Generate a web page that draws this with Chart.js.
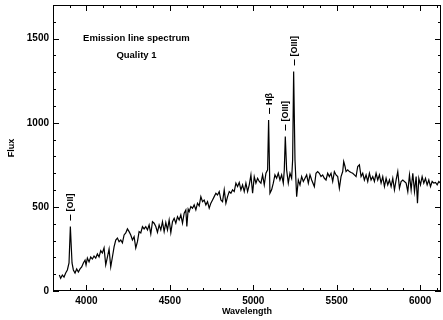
<!DOCTYPE html>
<html>
<head>
<meta charset="utf-8">
<script src="https://cdn.jsdelivr.net/npm/chart.js@4.4.1/dist/chart.umd.min.js"></script>
<style>
  html, body { margin: 0; padding: 0; background: #fff; }
  #wrap { width: 443px; height: 320px; }
</style>
</head>
<body>
<div id="wrap"><canvas id="spec"></canvas></div>
<script>
// spectrum samples
const wavelength = [
  3838, 3846, 3856, 3866, 3876, 3886, 3896, 3904, 3914, 3922, 3932, 3942, 3952, 3962, 3972, 3982, 3992, 3998,
  4006, 4016, 4026, 4036, 4046, 4056, 4066, 4076, 4086, 4096, 4106, 4116, 4126, 4136, 4146, 4156, 4166, 4176,
  4186, 4196, 4206, 4216, 4226, 4236, 4246, 4256, 4266, 4276, 4286, 4296, 4306, 4316, 4326, 4336, 4346, 4356,
  4366, 4376, 4386, 4396, 4406, 4416, 4426, 4436, 4446, 4456, 4466, 4476, 4486, 4496, 4506, 4516, 4526, 4536,
  4546, 4556, 4566, 4576, 4586, 4596, 4602,
  4610, 4616, 4626, 4636, 4646, 4656, 4666, 4676, 4686, 4696, 4706, 4716, 4726, 4736, 4746, 4756, 4766, 4776,
  4786, 4796, 4806, 4816, 4826, 4836, 4846, 4856, 4866, 4876, 4886, 4896, 4906, 4916, 4926, 4936, 4946, 4956, 4966,
  4976, 4986, 4996, 5006, 5016, 5026, 5036, 5046, 5056, 5066, 5076, 5086, 5092, 5100, 5110, 5120, 5130, 5140,
  5150, 5160, 5170, 5180, 5186, 5192, 5200, 5210, 5220, 5230, 5236, 5242, 5250, 5260, 5270, 5280, 5290, 5300,
  5310, 5320, 5330, 5340, 5350,
  5366, 5376, 5386, 5396, 5406, 5416, 5426, 5436, 5446, 5456, 5466, 5476, 5486, 5496, 5506, 5516, 5526, 5536,
  5542, 5550, 5556, 5566, 5576, 5586, 5596, 5606, 5616, 5626, 5636, 5646, 5656, 5666, 5676, 5686, 5696, 5706,
  5716, 5726, 5736, 5746, 5756, 5766, 5776, 5786, 5796, 5806, 5816, 5826, 5836, 5846, 5856, 5866, 5876, 5886,
  5896, 5916, 5926, 5936, 5946, 5956, 5966, 5976, 5984, 5992, 6002, 6012, 6022, 6032, 6042, 6052, 6062, 6072,
  6082, 6092, 6102, 6112, 6122
];
const flux = [
  95, 75, 95, 83, 107, 125, 167, 383, 167, 125, 107, 131, 113, 131, 143, 167, 184, 155,
  196, 173, 202, 190, 208, 196, 220, 202, 240, 226, 256, 155, 202, 250, 143, 202, 262, 303,
  315, 293, 303, 286, 333, 345, 369, 353, 333, 303, 323, 256, 293, 353, 345, 383, 369, 383,
  363, 393, 339, 412, 403, 383, 349, 393, 363, 412, 353, 407, 363, 422, 347, 412, 432, 403,
  442, 422, 452, 403, 462, 482, 383,
  486, 472, 502, 492, 512, 482, 522, 506, 561, 531, 541, 512, 531, 492, 522, 541, 561, 581,
  571, 591, 541, 531, 601, 522, 561, 591, 581, 601, 591, 641, 621, 645, 601, 631, 591, 641, 591,
  631, 690, 581, 680, 641, 670, 651, 641, 690, 631, 700, 720, 1017, 581, 601, 641, 690, 670,
  700, 660, 690, 641, 720, 918, 720, 641, 700, 670, 780, 1305, 780, 561, 660, 631, 680, 651,
  670, 690, 641, 690, 660,
  621, 700, 710, 700, 680, 690, 670, 660, 700, 680, 700, 651, 710, 690, 680, 611, 680, 710,
  769, 740, 710, 720, 710, 704, 700, 690, 680, 740, 750, 680, 700, 660, 690, 651, 700, 660,
  680, 651, 700, 660, 690, 641, 680, 621, 670, 631, 660, 621, 670, 601, 660, 710, 611, 651,
  660, 641, 591, 690, 601, 700, 591, 680, 522, 670, 631, 680, 641, 670, 631, 660, 621, 651,
  641, 645, 631, 651, 641
];

// identified emission lines
const lineNames = ["[OII]", "H\u03b2", "[OIII]", "[OIII]"];
const lineWave = [3904, 5092, 5192, 5242];

const notes = ["Emission line spectrum", "Quality 1"];
const noteFlux = [1500, 1400];
const noteWave = 4300;

const xLabels = [4000, 4500, 5000, 5500, 6000];
const yLabels = [0, 500, 1000, 1500];
const xRange = [3800, 6125];
const yRange = [0, 1700];
const xMinor = 100, yMinor = 100;

const FONT = '"Liberation Sans", Arial, sans-serif';

// box frame, inward ticks on every side, and the annotations
const boxPlugin = {
  id: 'boxPlugin',
  afterDatasetsDraw(chart) {
    const { ctx, chartArea: a, scales: { x, y } } = chart;
    ctx.save();
    ctx.strokeStyle = '#000';
    ctx.lineWidth = 1;
    ctx.strokeRect(a.left + 0.5, a.top + 0.5, a.right - a.left - 1, a.bottom - a.top - 1);

    ctx.beginPath();
    for (let v = xRange[0]; v <= xRange[1]; v += xMinor) {
      const px = Math.round(x.getPixelForValue(v)) + 0.5;
      const len = v % 500 === 0 ? 6 : 3;
      ctx.moveTo(px, a.bottom); ctx.lineTo(px, a.bottom - len);
      ctx.moveTo(px, a.top); ctx.lineTo(px, a.top + len);
    }
    for (let v = yRange[0]; v <= yRange[1]; v += yMinor) {
      const py = Math.round(y.getPixelForValue(v)) + 0.5;
      const len = v % 500 === 0 ? 6 : 3;
      ctx.moveTo(a.left, py); ctx.lineTo(a.left + len, py);
      ctx.moveTo(a.right, py); ctx.lineTo(a.right - len, py);
    }
    ctx.stroke();

    ctx.fillStyle = '#000';
    ctx.font = 'bold 9.5px ' + FONT;
    ctx.textAlign = 'center';
    ctx.textBaseline = 'middle';
    notes.forEach((t, i) => {
      ctx.fillText(t, x.getPixelForValue(noteWave), y.getPixelForValue(noteFlux[i]));
    });

    ctx.font = 'bold 9px ' + FONT;
    lineNames.forEach((name, i) => {
      const k = wavelength.indexOf(lineWave[i]);
      const px = Math.round(x.getPixelForValue(lineWave[i])) + 0.5;
      const py = y.getPixelForValue(flux[k]);
      ctx.beginPath();
      ctx.moveTo(px, py - 6);
      ctx.lineTo(px, py - 12);
      ctx.stroke();
      ctx.save();
      ctx.translate(px, py - 15);
      ctx.rotate(-Math.PI / 2);
      ctx.textAlign = 'left';
      ctx.fillText(name, 0, 0);
      ctx.restore();
    });
    ctx.restore();
  }
};

new Chart(document.getElementById('spec'), {
  type: 'line',
  data: {
    datasets: [{
      data: wavelength.map((w, i) => ({ x: w, y: flux[i] })),
      borderColor: '#000',
      borderWidth: 1.2,
      pointRadius: 0,
      tension: 0,
      fill: false
    }]
  },
  options: {
    responsive: true,
    maintainAspectRatio: false,
    animation: false,
    layout: { padding: { top: 5, right: 2, left: 0, bottom: 0 } },
    plugins: { legend: { display: false }, tooltip: { enabled: false } },
    scales: {
      x: {
        type: 'linear',
        min: xRange[0],
        max: xRange[1],
        afterBuildTicks: s => { s.ticks = xLabels.map(v => ({ value: v })); },
        afterFit: s => { s.height = 29; s.paddingLeft = 0; s.paddingRight = 0; },
        grid: { display: false, drawTicks: false },
        border: { display: false },
        ticks: { color: '#000', padding: 4, maxRotation: 0, callback: v => String(v),
                 font: { family: FONT, size: 10, weight: 'bold' } },
        title: { display: true, text: 'Wavelength', color: '#000', padding: { top: 0, bottom: 3 },
                 font: { family: FONT, size: 9, weight: 'bold' } }
      },
      y: {
        min: yRange[0],
        max: yRange[1],
        afterBuildTicks: s => { s.ticks = yLabels.map(v => ({ value: v })); },
        afterFit: s => { s.width = 53; s.paddingTop = 0; s.paddingBottom = 0; },
        grid: { display: false, drawTicks: false },
        border: { display: false },
        ticks: { color: '#000', padding: 4, callback: v => String(v),
                 font: { family: FONT, size: 10, weight: 'bold' } },
        title: { display: true, text: 'Flux', color: '#000', padding: { top: 6, bottom: 0 },
                 font: { family: FONT, size: 9, weight: 'bold' } }
      }
    }
  },
  plugins: [boxPlugin]
});
</script>
</body>
</html>
